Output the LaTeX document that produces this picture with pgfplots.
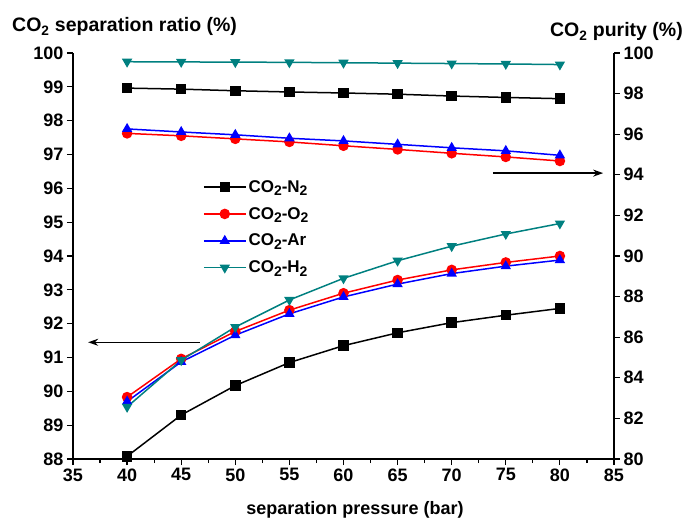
\documentclass[border=0pt]{standalone}
\usepackage{fontspec}
\setmainfont{Liberation Sans}
\usepackage{graphicx}
\usepackage{pgfplots}
\pgfplotsset{compat=1.18}
\usetikzlibrary{arrows.meta}
\definecolor{tealc}{RGB}{0,128,128}
\newcommand{\sub}[1]{\raisebox{-0.35ex}{\scalebox{0.82}{#1}}}
\pgfplotsset{
  common/.style={
    width=541pt, height=406pt, scale only axis,
    at={(0,0)}, anchor=south west,
    xmin=35, xmax=85,
    tick align=outside,
    major tick length=6pt, minor tick length=4pt,
    tick style={black, line width=1.2pt},
    axis line style={line width=1.5pt},
    /pgf/number format/assume math mode=true,
    tick label style={font=\fontsize{18}{18}\selectfont\bfseries},
    clip=false,
  },
  ser/.style={line width=1.5pt, mark size=4.5pt, mark options={solid}},
}
\begin{document}
\begin{tikzpicture}[x=1pt,y=1pt]
\path[use as bounding box] (-73,-61) rectangle (613,459);
\begin{axis}[common,
  ymin=88, ymax=100,
  axis x line*=bottom, axis y line*=left,
  xtick={35,40,...,85}, minor x tick num=1,
  ytick={88,89,...,100},
  legend style={at={(axis cs:47.0,96.3)}, anchor=north west, draw=none, fill=none,
    font=\fontsize{17}{17}\selectfont\bfseries, row sep=9.5pt, inner sep=0pt,
    nodes={inner sep=2pt}},
  legend cell align=left,
  legend image post style={line width=1.5pt},
  legend image code/.code={\draw[mark repeat=2,mark phase=2] plot coordinates {(0pt,0pt) (21pt,0pt) (42pt,0pt)};},
]
\addplot[ser, black, mark=square*] coordinates {(40,88.08) (45,89.30) (50,90.17) (55,90.85) (60,91.35) (65,91.73) (70,92.03) (75,92.25) (80,92.45)};
\addlegendentry{CO\sub{2}-N\sub{2}}
\addplot[ser, red, mark=*] coordinates {(40,89.83) (45,90.96) (50,91.77) (55,92.40) (60,92.90) (65,93.29) (70,93.59) (75,93.81) (80,94.00)};
\addlegendentry{CO\sub{2}-O\sub{2}}
\addplot[ser, blue, mark=triangle*] coordinates {(40,89.70) (45,90.87) (50,91.66) (55,92.29) (60,92.79) (65,93.17) (70,93.48) (75,93.70) (80,93.88)};
\addlegendentry{CO\sub{2}-Ar}
\addplot[ser, tealc, mark=triangle*, mark options={rotate=180}] coordinates {(40,89.54) (45,90.92) (50,91.90) (55,92.70) (60,93.34) (65,93.86) (70,94.29) (75,94.65) (80,94.96)};
\addlegendentry{CO\sub{2}-H\sub{2}}
\draw[-{Stealth[length=10pt,width=7pt]}, line width=1.5pt] (axis cs:46.7,91.45) -- (axis cs:36.4,91.45);
\draw[-{Stealth[length=10pt,width=7pt]}, line width=1.5pt] (axis cs:73.8,96.45) -- (axis cs:84.0,96.45);
\end{axis}
\begin{axis}[common,
  ymin=80, ymax=100,
  axis x line=none, axis y line*=right,
  ytick={80,82,...,100},
]
\addplot[ser, black, mark=square*] coordinates {(40,98.27) (45,98.22) (50,98.14) (55,98.08) (60,98.03) (65,97.97) (70,97.88) (75,97.81) (80,97.75)};
\addplot[ser, red, mark=*] coordinates {(40,96.04) (45,95.92) (50,95.77) (55,95.62) (60,95.43) (65,95.25) (70,95.06) (75,94.88) (80,94.68)};
\addplot[ser, blue, mark=triangle*] coordinates {(40,96.26) (45,96.11) (50,95.97) (55,95.80) (60,95.67) (65,95.50) (70,95.33) (75,95.18) (80,94.96)};
\addplot[ser, tealc, mark=triangle*, mark options={rotate=180}] coordinates {(40,99.57) (45,99.56) (50,99.55) (55,99.54) (60,99.52) (65,99.50) (70,99.48) (75,99.46) (80,99.43)};
\end{axis}
\node[anchor=base west, inner sep=0pt, font=\fontsize{19.5}{20}\selectfont\bfseries] at (-61,427) {CO\textsubscript{2} separation ratio (\%)};
\node[anchor=base east, inner sep=0pt, font=\fontsize{19.5}{20}\selectfont\bfseries] at (610,422) {CO\textsubscript{2} purity (\%)};
\node[anchor=base, inner sep=0pt, font=\fontsize{18}{18}\selectfont\bfseries] at (282,-55) {separation pressure (bar)};
\end{tikzpicture}
\end{document}
